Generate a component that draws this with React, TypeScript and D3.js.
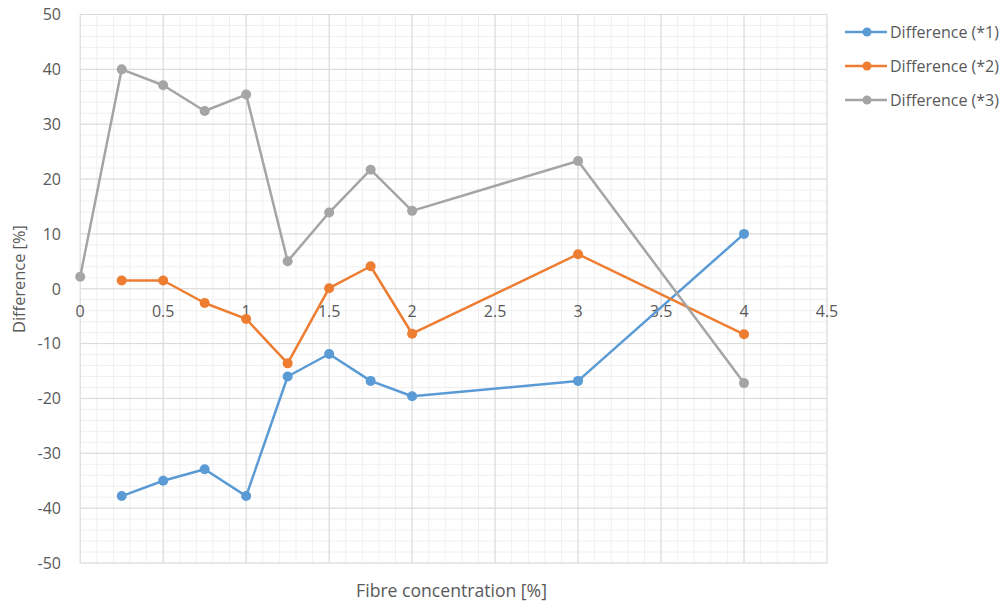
import React from "react";
import * as d3 from "d3";

const xValues = [0.25, 0.5, 0.75, 1, 1.25, 1.5, 1.75, 2, 3, 4];
const diff1 = [-37.8, -35, -32.9, -37.8, -16, -11.9, -16.8, -19.6, -16.8, 10];
const diff2 = [1.5, 1.5, -2.6, -5.5, -13.6, 0.1, 4.1, -8.2, 6.3, -8.3];
const xValues3 = [0, 0.25, 0.5, 0.75, 1, 1.25, 1.5, 1.75, 2, 3, 4];
const diff3 = [2.2, 40, 37.1, 32.4, 35.4, 5, 13.9, 21.7, 14.2, 23.3, -17.2];

const xTicks = [0, 0.5, 1, 1.5, 2, 2.5, 3, 3.5, 4, 4.5];
const yTicks = [50, 40, 30, 20, 10, 0, -10, -20, -30, -40, -50];
const seriesNames = ["Difference (*1)", "Difference (*2)", "Difference (*3)"];
const seriesColors = ["#5B9BD5", "#ED7D31", "#A5A5A5"];

const W = 1006;
const H = 605;
const left = 80.2;
const right = 827;
const top = 14.5;
const bottom = 563;
const font = "'Open Sans', 'Noto Sans', sans-serif";

export default function App() {
  const x = d3.scaleLinear().domain([0, 4.5]).range([left, right]);
  const y = d3.scaleLinear().domain([-50, 50]).range([bottom, top]);
  const line = d3
    .line<[number, number]>()
    .x((d) => x(d[0]))
    .y((d) => y(d[1]));

  const series = [
    xValues.map((v, i) => [v, diff1[i]] as [number, number]),
    xValues.map((v, i) => [v, diff2[i]] as [number, number]),
    xValues3.map((v, i) => [v, diff3[i]] as [number, number]),
  ];

  const minorX = d3.range(0, 45 + 1).map((i) => i / 10);
  const minorY = d3.range(-50, 51, 2);

  return (
    <svg
      width={W}
      height={H}
      style={{ position: "absolute", left: 0, top: 0, background: "#fff" }}
      fontFamily={font}
    >
      {/* minor grid */}
      {minorX.map((v) => (
        <line key={"mx" + v} x1={x(v)} x2={x(v)} y1={top} y2={bottom} stroke="#f0f0f0" strokeWidth={1} />
      ))}
      {minorY.map((v) => (
        <line key={"my" + v} x1={left} x2={right} y1={y(v)} y2={y(v)} stroke="#f0f0f0" strokeWidth={1} />
      ))}
      {/* major grid */}
      {xTicks.map((v) => (
        <line key={"gx" + v} x1={x(v)} x2={x(v)} y1={top} y2={bottom} stroke="#d9d9d9" strokeWidth={1} />
      ))}
      {yTicks.map((v) => (
        <line key={"gy" + v} x1={left} x2={right} y1={y(v)} y2={y(v)} stroke="#d9d9d9" strokeWidth={1} />
      ))}

      {/* tick labels */}
      {yTicks.map((v) => (
        <text key={"ty" + v} x={61} y={y(v)} dy="0.36em" textAnchor="end" fontSize={16} fill="#595959">
          {v}
        </text>
      ))}
      {xTicks.map((v) => (
        <text key={"tx" + v} x={x(v)} y={y(0) + 28} textAnchor="middle" fontSize={16} fill="#595959">
          {v}
        </text>
      ))}

      {/* series */}
      {series.map((pts, si) => (
        <g key={"s" + si}>
          <path d={line(pts) || ""} fill="none" stroke={seriesColors[si]} strokeWidth={2.5} strokeLinejoin="round" />
          {pts.map((p, i) => (
            <circle key={i} cx={x(p[0])} cy={y(p[1])} r={5} fill={seriesColors[si]} />
          ))}
        </g>
      ))}

      {/* axis titles */}
      <text
        transform={`translate(25,279) rotate(-90)`}
        textAnchor="middle"
        fontSize={16.4}
        fill="#595959"
      >
        Difference [%]
      </text>
      <text x={451.5} y={597} textAnchor="middle" fontSize={17.6} fill="#595959">
        Fibre concentration [%]
      </text>

      {/* legend */}
      {seriesNames.map((name, i) => {
        const ly = 32 + i * 34;
        return (
          <g key={"lg" + i}>
            <line x1={845} x2={887} y1={ly} y2={ly} stroke={seriesColors[i]} strokeWidth={2.5} />
            <circle cx={867} cy={ly} r={4.5} fill={seriesColors[i]} />
            <text x={890} y={ly} dy="0.36em" fontSize={16} fill="#595959">
              {name}
            </text>
          </g>
        );
      })}
    </svg>
  );
}
